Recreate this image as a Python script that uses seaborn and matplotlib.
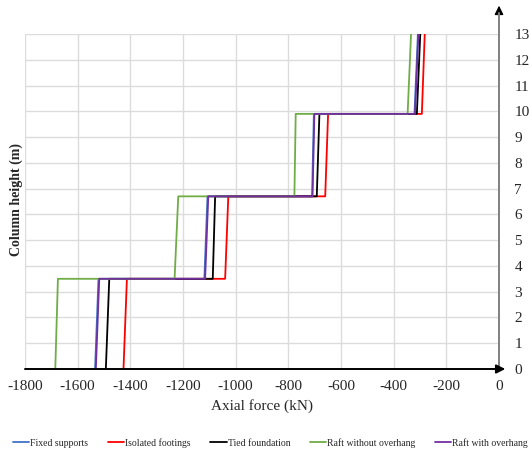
import pandas as pd
import matplotlib
matplotlib.use('Agg')
import matplotlib.pyplot as plt
import seaborn as sns

# --- data ---
heights = [0, 3.5, 3.5, 6.7, 6.7, 9.9, 9.9, 13]
fixed_supports = [-1534, -1521, -1119, -1107, -710, -703, -321, -308]
isolated_footings = [-1426, -1413, -1040, -1028, -660, -649, -293, -282]
tied_foundation = [-1493, -1480, -1087, -1078, -692, -682, -312, -299]
raft_without = [-1685, -1675, -1232, -1218, -777, -772, -347, -334]
raft_with = [-1531, -1518, -1116, -1104, -708, -701, -319, -306]

series_names = ['Fixed supports', 'Isolated footings', 'Tied foundation',
                'Raft without overhang', 'Raft with overhang']
series_vals = [fixed_supports, isolated_footings, tied_foundation, raft_without, raft_with]
colors = ['#4472C4', '#FF0000', '#000000', '#70AD47', '#7030A0']

x_ticks = list(range(-1800, 1, 200))
y_ticks = list(range(0, 14))

rows = []
for name, vals in zip(series_names, series_vals):
    for i, (f, h) in enumerate(zip(vals, heights)):
        rows.append({'series': name, 'order': i, 'force': f, 'height': h})
df = pd.DataFrame(rows)

# --- style ---
sns.set_style('white')
plt.rcParams['font.family'] = ['Liberation Serif', 'DejaVu Serif']

fig = plt.figure(figsize=(5.30, 4.55), dpi=100)
ax = fig.add_axes([25 / 530, 1 - 369 / 455, 474 / 530, 335 / 455])

sns.lineplot(data=df, x='force', y='height', hue='series', hue_order=series_names,
             palette=colors, sort=False, estimator=None, linewidth=1.3, ax=ax)

ax.set_xlim(-1800, 0)
ax.set_ylim(0, 13)
ax.set_xticks(x_ticks)
ax.set_xticklabels([str(t) for t in x_ticks], fontsize=11)
ax.set_yticks(y_ticks)
ax.set_yticklabels([str(t) for t in y_ticks], fontsize=11)
ax.yaxis.tick_right()
ax.tick_params(axis='both', length=0)
ax.tick_params(axis='y', pad=11)
ax.tick_params(axis='x', pad=8)

ax.grid(True, color='#dcdcdc', linewidth=1)
ax.set_axisbelow(True)
for s in ['top', 'left', 'right', 'bottom']:
    ax.spines[s].set_visible(False)

# x axis line with arrow
ax.annotate('', xy=(24, 0), xytext=(-1800, 0), xycoords='data',
            arrowprops=dict(arrowstyle='-|>', color='black', lw=1.4,
                            mutation_scale=13, shrinkA=0, shrinkB=0),
            annotation_clip=False, zorder=5)
# y axis line (grey) with black arrow head
ax.plot([0, 0], [0, 13.8], color='#808080', lw=1.4, clip_on=False, zorder=4)
ax.annotate('', xy=(0, 14.1), xytext=(0, 13.75), xycoords='data',
            arrowprops=dict(arrowstyle='-|>', color='black', lw=1.0,
                            mutation_scale=13, shrinkA=0, shrinkB=0),
            annotation_clip=False)

ax.set_xlabel('Axial force (kN)', fontsize=11, labelpad=4)
ax.set_ylabel('')
fig.text(16 / 530, 1 - 200 / 455, 'Column height (m)', rotation=90, fontsize=10,
         fontweight='bold', ha='center', va='center')

ax.legend_.remove()
handles, labels = ax.get_legend_handles_labels()
fig.legend(handles, labels, loc='center', bbox_to_anchor=(0.51, 1 - 443 / 455),
           ncol=5, frameon=False, fontsize=7, handlelength=1.7, handletextpad=0.1,
           columnspacing=2.0, borderaxespad=0, borderpad=0)

fig.savefig('out.png', dpi=100)
